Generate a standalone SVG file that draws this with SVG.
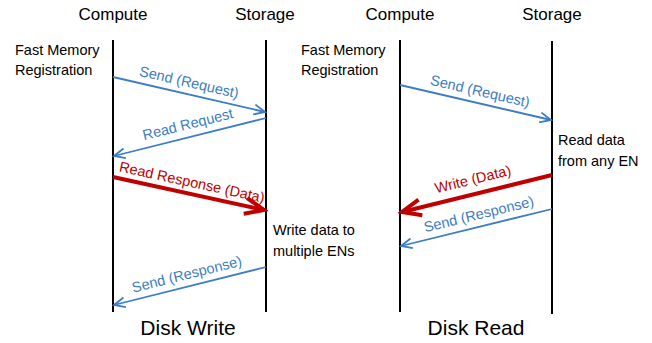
<svg xmlns="http://www.w3.org/2000/svg" width="652" height="343" viewBox="0 0 652 343">
<style>
text{font-family:"Liberation Sans",Arial,sans-serif;fill:#000}
.hdr{font-size:17px;text-anchor:middle}
.note{font-size:14.5px}
.ttl{font-size:21px;text-anchor:middle}
.lbl{font-size:14.5px;text-anchor:middle}
.b{fill:#3c7dc3}
.r{fill:#c00000}
.life{stroke:#000;stroke-width:2;fill:none}
.blue{stroke:#3c7dc3;stroke-width:1.8;fill:none;marker-end:url(#ab)}
.red{stroke:#c00000;stroke-width:4;fill:none;marker-end:url(#ar)}
</style>
<defs>
<marker id="ab" viewBox="0 0 14 12" refX="12" refY="6" markerWidth="14" markerHeight="12" markerUnits="userSpaceOnUse" orient="auto">
<path d="M1,1 L12,6 L1,11" fill="none" stroke="#3c7dc3" stroke-width="1.8"/>
</marker>
<marker id="ar" viewBox="0 0 26 22" refX="22" refY="11" markerWidth="26" markerHeight="22" markerUnits="userSpaceOnUse" orient="auto">
<path d="M3,3 L22,11 L3,19" fill="none" stroke="#c00000" stroke-width="4"/>
</marker>
</defs>
<g id="write-compute">
<text class="hdr" x="113" y="20">Compute</text>
<line class="life" x1="113" y1="40" x2="113" y2="312"/>
<text class="note" x="15" y="55">Fast Memory</text>
<text class="note" x="15" y="75">Registration</text>
</g>
<g id="write-storage">
<text class="hdr" x="265" y="20">Storage</text>
<line class="life" x1="266" y1="40" x2="266" y2="312"/>
<text class="note" x="273" y="235">Write data to</text>
<text class="note" x="273" y="256">multiple ENs</text>
</g>
<g id="write-title"><text class="ttl" x="188" y="335">Disk Write</text></g>
<g id="read-compute">
<text class="hdr" x="400" y="20">Compute</text>
<line class="life" x1="400" y1="40" x2="400" y2="312"/>
<text class="note" x="301" y="55">Fast Memory</text>
<text class="note" x="301" y="75">Registration</text>
</g>
<g id="read-storage">
<text class="hdr" x="552" y="20">Storage</text>
<line class="life" x1="552" y1="41" x2="552" y2="314"/>
<text class="note" x="558" y="145">Read data</text>
<text class="note" x="558" y="166">from any EN</text>
</g>
<g id="read-title"><text class="ttl" x="476" y="335">Disk Read</text></g>
<g id="connectors">
<line class="blue" x1="113" y1="77" x2="265" y2="112"/>
<text class="lbl b" x="188" y="87" transform="rotate(12.9 188 87)">Send (Request)</text>
<line class="blue" x1="266" y1="118" x2="114" y2="156"/>
<text class="lbl b" x="189" y="129" transform="rotate(-13.9 189 129)">Read Request</text>
<line class="red" x1="113" y1="177" x2="264" y2="210"/>
<text class="lbl r" x="191" y="187" transform="rotate(12.2 191 187)">Read Response (Data)</text>
<line class="blue" x1="266" y1="267" x2="114" y2="305"/>
<text class="lbl b" x="188" y="279" transform="rotate(-14 188 279)">Send (Response)</text>
<line class="blue" x1="400" y1="85" x2="551" y2="120"/>
<text class="lbl b" x="479" y="96" transform="rotate(13 479 96)">Send (Request)</text>
<line class="red" x1="552" y1="175" x2="402" y2="212"/>
<text class="lbl r" x="474" y="184" transform="rotate(-13.7 474 184)">Write (Data)</text>
<line class="blue" x1="552" y1="209" x2="401" y2="246"/>
<text class="lbl b" x="480" y="219" transform="rotate(-13.7 480 219)">Send (Response)</text>
</g>
</svg>
